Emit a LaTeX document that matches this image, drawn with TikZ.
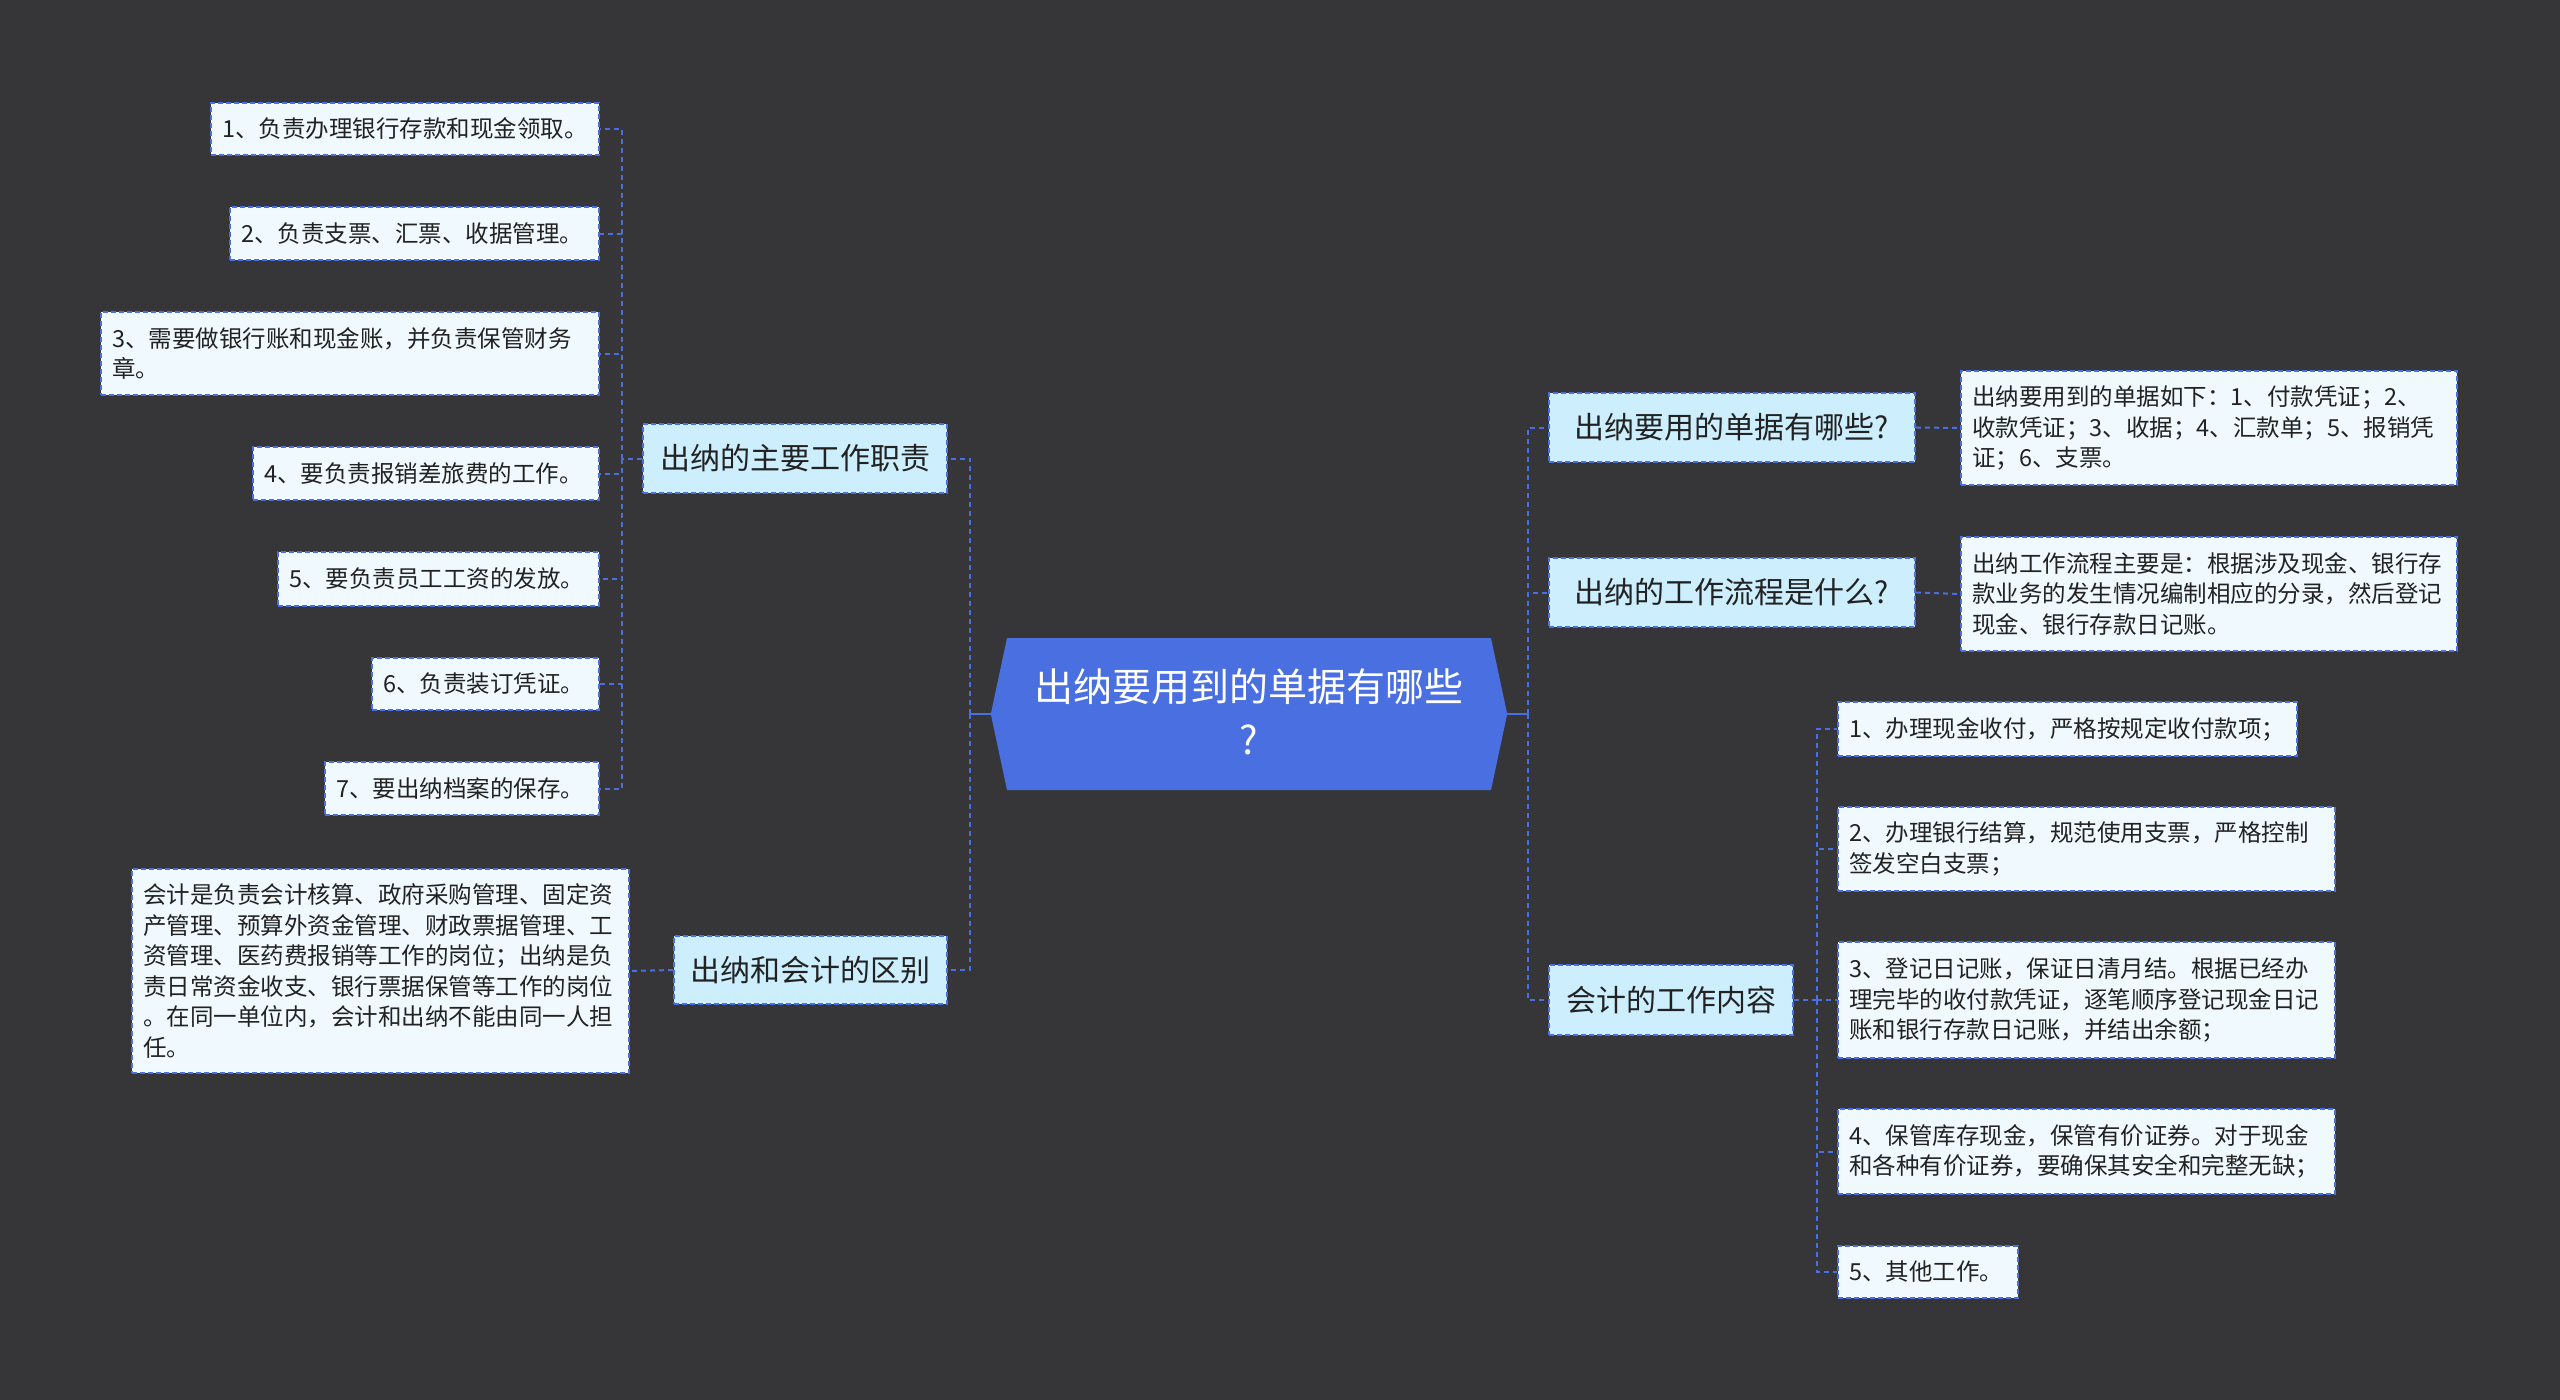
\documentclass[tikz,border=0pt]{standalone}
\usepackage{fontspec}
\setmainfont{Noto Sans CJK SC}
\definecolor{bg}{HTML}{363538}
\definecolor{mblue}{HTML}{4A6FE0}
\definecolor{brfill}{HTML}{CCEEFD}
\definecolor{lffill}{HTML}{F0FAFE}
\definecolor{txt}{HTML}{222222}
\tikzset{
  conn/.style={draw=mblue, line width=2pt, dash pattern=on 5pt off 4pt},
  stub/.style={draw=mblue, line width=2.4pt},
  branch/.style={draw=mblue, fill=brfill, line width=2pt, dash pattern=on 5pt off 3pt,
    font=\fontsize{30}{36}\selectfont, text=txt, inner sep=0pt, align=center},
  leaf/.style={draw=mblue, fill=lffill, line width=2pt, dash pattern=on 5pt off 3pt,
    font=\fontsize{23.5}{30.5}\selectfont, text=txt, inner xsep=11pt, inner ysep=0pt, align=left},
}
\newcommand{\lf}[7]{% name, cx, cy, w, h, text
  \node[leaf, minimum width=#4pt, minimum height=#5pt, text width=#6pt] (#1) at (#2,#3) {#7};}
\begin{document}
\begin{tikzpicture}[x=1pt,y=-1pt]
\fill[bg] (0,0) rectangle (2560,1400);
\useasboundingbox (0,0) rectangle (2560,1400);

% root
\node[minimum width=516pt, minimum height=152pt, inner sep=0pt] (root) at (1249,714) {};
\fill[mblue] (root.west) -- (1007,638) -- (1491,638) -- (root.east) -- (1491,790) -- (1007,790) -- cycle;
\node[text=white, font=\fontsize{39}{53}\selectfont, align=center] (rootlabel) at (1249,712) {出纳要用到的单据有哪些\\?};

% left branches
\node[branch, minimum width=304pt, minimum height=69pt] (L1) at (795,458.5) {出纳的主要工作职责};
\node[branch, minimum width=273pt, minimum height=68pt] (L2) at (810.5,970) {出纳和会计的区别};

% right branches
\node[branch, minimum width=366pt, minimum height=69pt] (R1) at (1732,427.5) {出纳要用的单据有哪些?};
\node[branch, minimum width=366pt, minimum height=69pt] (R2) at (1732,592.5) {出纳的工作流程是什么?};
\node[branch, minimum width=244pt, minimum height=70pt] (R3) at (1671,1000) {会计的工作内容};

% left leaves
\lf{A1}{405}{129}{388}{52}{366}{1、负责办理银行存款和现金领取。}
\lf{A2}{414.5}{233.5}{369}{53}{347}{2、负责支票、汇票、收据管理。}
\lf{A3}{350}{353.5}{498}{83}{476}{3、需要做银行账和现金账，并负责保管财务\\章。}
\lf{A4}{426}{473.5}{346}{53}{324}{4、要负责报销差旅费的工作。}
\lf{A5}{438.5}{579}{321}{54}{299}{5、要负责员工工资的发放。}
\lf{A6}{485.5}{684}{227}{52}{205}{6、负责装订凭证。}
\lf{A7}{462}{788.5}{274}{53}{252}{7、要出纳档案的保存。}

\lf{L2d}{380.5}{971}{497}{204}{475}{会计是负责会计核算、政府采购管理、固定资\\产管理、预算外资金管理、财政票据管理、工\\资管理、医药费报销等工作的岗位；出纳是负\\责日常资金收支、银行票据保管等工作的岗位\\。在同一单位内，会计和出纳不能由同一人担\\任。}

% right details
\lf{R1d}{2209}{428}{496}{114}{474}{出纳要用到的单据如下：1、付款凭证；2、\\收款凭证；3、收据；4、汇款单；5、报销凭\\证；6、支票。}
\lf{R2d}{2209}{594}{496}{114}{474}{出纳工作流程主要是：根据涉及现金、银行存\\款业务的发生情况编制相应的分录，然后登记\\现金、银行存款日记账。}

\lf{C1}{2067.5}{729}{459}{54}{437}{1、办理现金收付，严格按规定收付款项；}
\lf{C2}{2086.5}{849}{497}{84}{475}{2、办理银行结算，规范使用支票，严格控制\\签发空白支票；}
\lf{C3}{2086.5}{1000}{497}{116}{475}{3、登记日记账，保证日清月结。根据已经办\\理完毕的收付款凭证，逐笔顺序登记现金日记\\账和银行存款日记账，并结出余额；}
\lf{C4}{2086.5}{1151.5}{497}{85}{475}{4、保管库存现金，保管有价证券。对于现金\\和各种有价证券，要确保其安全和完整无缺；}
\lf{C5}{1928}{1272}{180}{52}{158}{5、其他工作。}

% spine coordinates
\coordinate (ls) at (970,714);
\coordinate (rs) at (1528,714);
\coordinate (l1s) at (622,458.5);
\coordinate (r3s) at (1817,1000);

% connectors root
\draw[stub] (root.west) -- (ls);
\draw[stub] (root.east) -- (rs);
\draw[conn] (ls) |- (L1.east);
\draw[conn] (ls) |- (L2.east);
\draw[conn] (rs) |- (R1.west);
\draw[conn] (rs) |- (R2.west);
\draw[conn] (rs) |- (R3.west);

% left leaves
\draw[conn] (L1.west) -- (l1s);
\foreach \n in {A1,A2,A3,A4,A5,A6,A7} { \draw[conn] (l1s) |- (\n.east); }
\draw[conn] (L2.west) -- (L2d.east);

% right details
\draw[conn] (R1.east) -- (R1d.west);
\draw[conn] (R2.east) -- (R2d.west);
\draw[conn] (R3.east) -- (r3s);
\foreach \n in {C1,C2,C3,C4,C5} { \draw[conn] (r3s) |- (\n.west); }
\end{tikzpicture}
\end{document}
